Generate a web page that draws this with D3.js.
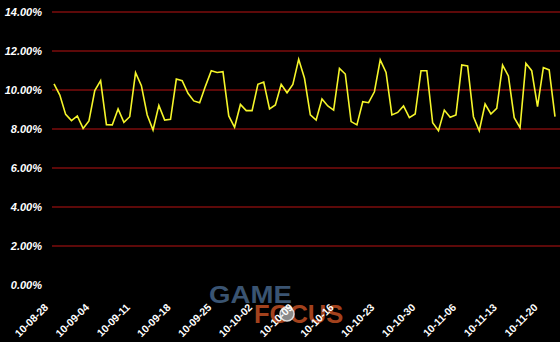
<!DOCTYPE html>
<html>
<head>
<meta charset="utf-8">
<script src="https://cdn.jsdelivr.net/npm/d3@7"></script>
<style>
  body { margin: 0; background: #000; }
  svg { display: block; }
</style>
</head>
<body>
<script>
// daily values, starting 2010-08-28
const startDate = "2010-08-28";
const values = [
  10.31, 9.74, 8.75, 8.43, 8.67, 8.03, 8.41, 9.97, 10.48, 8.22,
  8.21, 9.03, 8.34, 8.63, 10.89, 10.22, 8.72, 7.95, 9.21, 8.46,
  8.50, 10.56, 10.48, 9.83, 9.44, 9.35, 10.20, 10.99, 10.90, 10.94,
  8.67, 8.09, 9.26, 8.94, 8.94, 10.29, 10.41, 9.03, 9.23, 10.29,
  9.86, 10.29, 11.57, 10.60, 8.72, 8.46, 9.54, 9.18, 8.97, 11.11,
  10.82, 8.38, 8.21, 9.40, 9.35, 9.91, 11.54, 10.90, 8.72, 8.85,
  9.18, 8.58, 8.77, 10.99, 10.99, 8.32, 7.91, 8.97, 8.60, 8.72,
  11.28, 11.23, 8.63, 7.91, 9.28, 8.77, 9.06, 11.28, 10.72, 8.58,
  8.07, 11.37, 10.99, 9.15, 11.15, 11.03, 8.63
];
const yTicks = [0, 2, 4, 6, 8, 10, 12, 14];
const xTickLabels = ["10-08-28", "10-09-04", "10-09-11", "10-09-18", "10-09-25",
  "10-10-02", "10-10-09", "10-10-16", "10-10-23", "10-10-30", "10-11-06",
  "10-11-13", "10-11-20"];

const w = 560;
const h = 342;

const parse = d3.timeParse("%Y-%m-%d");
const t0 = parse(startDate);
const data = values.map((v, i) => ({ date: d3.timeDay.offset(t0, i), value: v }));

const x = d3.scaleTime()
  .domain([t0, d3.timeDay.offset(t0, values.length - 1)])
  .range([54, 555]);

const y = d3.scaleLinear()
  .domain([0, 14])
  .range([285, 12]);

const svg = d3.select("body")
  .append("svg")
  .attr("width", w)
  .attr("height", h)
  .style("background", "#000");

// gridlines
svg.append("g")
  .selectAll("line")
  .data(yTicks.filter(d => d > 0))
  .enter()
  .append("line")
  .attr("x1", 52)
  .attr("x2", w)
  .attr("y1", d => y(d))
  .attr("y2", d => y(d))
  .attr("stroke", "#7d0d0d")
  .attr("stroke-width", 1.5);

// y labels
svg.append("g")
  .selectAll("text")
  .data(yTicks)
  .enter()
  .append("text")
  .attr("x", 42)
  .attr("y", d => y(d) + 4)
  .attr("text-anchor", "end")
  .attr("fill", "#fff")
  .style("font", "italic bold 11px 'Liberation Sans', Arial, sans-serif")
  .text(d => d.toFixed(2) + "%");

// watermark
const wm = svg.append("g");
wm.append("text")
  .attr("transform", "translate(209,303) scale(1.15,1)")
  .attr("fill", "#3a5472")
  .style("font", "bold 24px 'Liberation Sans', Arial, sans-serif")
  .text("GAME");
wm.append("text")
  .attr("transform", "translate(254,323) scale(1.02,1)")
  .attr("fill", "#a3421d")
  .style("font", "bold 25px 'Liberation Sans', Arial, sans-serif")
  .text("FOCUS");
wm.append("circle")
  .attr("cx", 287)
  .attr("cy", 314)
  .attr("r", 7)
  .attr("fill", "#8a8a8a")
  .attr("stroke", "#ddd")
  .attr("stroke-width", 1.5);

// line
const line = d3.line()
  .x(d => x(d.date))
  .y(d => y(d.value));

svg.append("path")
  .datum(data)
  .attr("d", line)
  .attr("fill", "none")
  .attr("stroke", "#f5f52a")
  .attr("stroke-width", 1.6)
  .attr("stroke-linejoin", "miter");

// x labels, one per week
const ticks = xTickLabels.map((s, i) => d3.timeDay.offset(t0, i * 7));
svg.append("g")
  .selectAll("text")
  .data(ticks)
  .enter()
  .append("text")
  .attr("transform", d => "translate(" + (x(d) - 5) + ",308) rotate(-45)")
  .attr("text-anchor", "end")
  .attr("fill", "#fff")
  .style("font", "bold 10.5px 'Liberation Sans', Arial, sans-serif")
  .text((d, i) => xTickLabels[i]);
</script>
</body>
</html>
